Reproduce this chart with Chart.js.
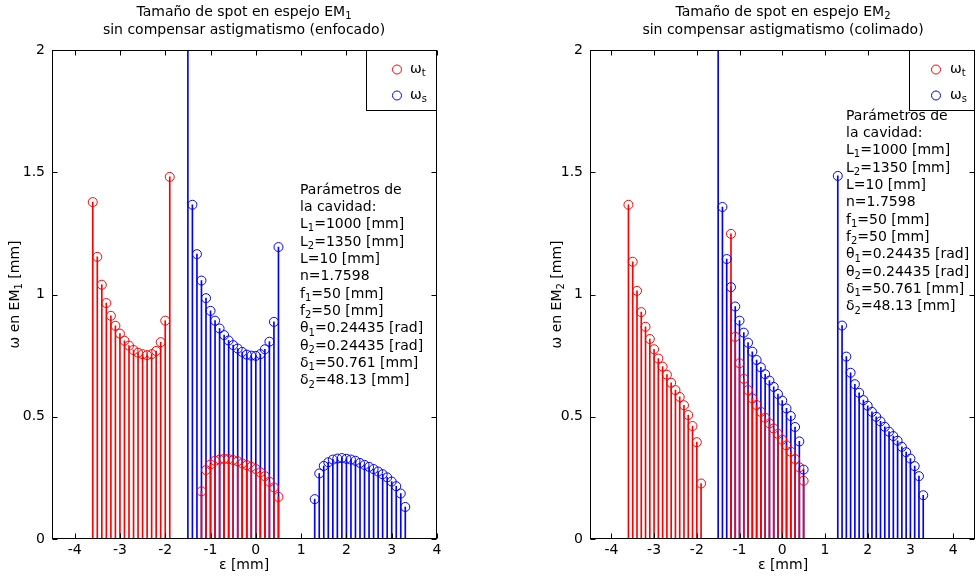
<!DOCTYPE html>
<html>
<head>
<meta charset="utf-8">
<script src="https://cdn.jsdelivr.net/npm/chart.js@4.4.0/dist/chart.umd.min.js"></script>
<style>
  body { margin: 0; background: #fff; }
  canvas { position: absolute; top: 0; }
</style>
</head>
<body>
<canvas id="em1" width="490" height="577" style="left:0px"></canvas>
<canvas id="em2" width="490" height="577" style="left:490px"></canvas>
<script>
// tick labels
const xTicks = [-4, -3, -2, -1, 0, 1, 2, 3, 4];
const yTicks = [0, 0.5, 1, 1.5, 2];

// epsilon positions [mm]
const epsT = [-3.6, -3.5, -3.4, -3.3, -3.2, -3.1, -3.0, -2.9, -2.8, -2.7, -2.6, -2.5, -2.4, -2.3, -2.2, -2.1, -2.0, -1.9,
              -1.2, -1.1, -1.0, -0.9, -0.8, -0.7, -0.6, -0.5, -0.4, -0.3, -0.2, -0.1, 0.0, 0.1, 0.2, 0.3, 0.4, 0.5];
const epsS = [-1.5, -1.4, -1.3, -1.2, -1.1, -1.0, -0.9, -0.8, -0.7, -0.6, -0.5, -0.4, -0.3, -0.2, -0.1, 0.0, 0.1, 0.2, 0.3, 0.4, 0.5,
              1.3, 1.4, 1.5, 1.6, 1.7, 1.8, 1.9, 2.0, 2.1, 2.2, 2.3, 2.4, 2.5, 2.6, 2.7, 2.8, 2.9, 3.0, 3.1, 3.2, 3.3];

// EM1 (enfocado)
const em1WT = [1.378, 1.154, 1.04, 0.965, 0.913, 0.872, 0.84, 0.811, 0.791, 0.773, 0.762, 0.756, 0.752, 0.756, 0.769, 0.805, 0.893, 1.481,
               0.195, 0.282, 0.305, 0.32, 0.325, 0.328, 0.327, 0.323, 0.318, 0.309, 0.302, 0.295, 0.286, 0.273, 0.257, 0.234, 0.211, 0.172];
const em1WS = [2.6, 1.367, 1.165, 1.057, 0.985, 0.933, 0.893, 0.861, 0.834, 0.812, 0.793, 0.779, 0.765, 0.754, 0.75, 0.749, 0.756, 0.776, 0.807, 0.888, 1.194,
               0.163, 0.268, 0.299, 0.314, 0.325, 0.329, 0.331, 0.328, 0.325, 0.32, 0.311, 0.303, 0.295, 0.286, 0.276, 0.265, 0.252, 0.235, 0.216, 0.186, 0.131];

// EM2 (colimado)
const em2WT = [1.367, 1.134, 1.015, 0.928, 0.868, 0.818, 0.776, 0.738, 0.705, 0.672, 0.639, 0.609, 0.581, 0.547, 0.507, 0.462, 0.396, 0.227,
               1.248, 0.827, 0.719, 0.655, 0.609, 0.575, 0.548, 0.52, 0.496, 0.473, 0.452, 0.43, 0.406, 0.383, 0.357, 0.327, 0.293, 0.238];
const em2WS = [2.6, 1.358, 1.145, 1.03, 0.951, 0.893, 0.844, 0.803, 0.766, 0.732, 0.702, 0.674, 0.648, 0.622, 0.593, 0.566, 0.534, 0.503, 0.458, 0.399, 0.284,
               1.485, 0.873, 0.746, 0.68, 0.633, 0.598, 0.568, 0.545, 0.52, 0.5, 0.481, 0.459, 0.439, 0.421, 0.402, 0.377, 0.355, 0.329, 0.298, 0.257, 0.179];

const params = ['Parámetros de', 'la cavidad:', 'L_1=1000 [mm]', 'L_2=1350 [mm]', 'L=10 [mm]', 'n=1.7598',
                'f_1=50 [mm]', 'f_2=50 [mm]', 'θ_1=0.24435 [rad]', 'θ_2=0.24435 [rad]', 'δ_1=50.761 [mm]', 'δ_2=48.13 [mm]'];

const FONT = 'DejaVu Sans';
const RED = '#ff0000', BLUE = '#0000ff';

// text with "_x" subscripts
function richText(ctx, str, x, y, size, align) {
  const parts = str.split(/_(.)/);
  const fN = size + 'px "' + FONT + '"';
  const fS = Math.round(size * 0.72) + 'px "' + FONT + '"';
  let w = 0;
  parts.forEach((p, i) => { ctx.font = i % 2 ? fS : fN; w += ctx.measureText(p).width; });
  let cx = align === 'center' ? x - w / 2 : x;
  ctx.textAlign = 'left';
  ctx.textBaseline = 'middle';
  parts.forEach((p, i) => {
    ctx.font = i % 2 ? fS : fN;
    ctx.fillText(p, cx, i % 2 ? y + size * 0.3 : y);
    cx += ctx.measureText(p).width;
  });
}

// box, inward ticks, legend and annotations
const deco = {
  id: 'deco',
  afterDraw(chart, args, o) {
    const ctx = chart.ctx, a = chart.chartArea;
    const xs = chart.scales.x, ys = chart.scales.y;
    const L = Math.round(a.left) + 0.5, R = Math.round(a.right) - 0.5;
    const T = Math.round(a.top) + 0.5, B = Math.round(a.bottom) - 0.5;
    ctx.save();
    ctx.strokeStyle = '#000';
    ctx.lineWidth = 1;
    ctx.strokeRect(L, T, R - L, B - T);
    ctx.beginPath();
    xTicks.forEach(v => {
      const px = Math.round(xs.getPixelForValue(v)) + 0.5;
      ctx.moveTo(px, B); ctx.lineTo(px, B - 5);
      ctx.moveTo(px, T); ctx.lineTo(px, T + 5);
    });
    yTicks.forEach(v => {
      const py = Math.round(ys.getPixelForValue(v)) + 0.5;
      ctx.moveTo(L, py); ctx.lineTo(L + 5, py);
      ctx.moveTo(R, py); ctx.lineTo(R - 5, py);
    });
    ctx.stroke();

    ctx.fillStyle = '#000';
    o.title.forEach((t, i) => richText(ctx, t, o.cx, 12 + i * 18, 14, 'center'));
    richText(ctx, 'ε [mm]', o.cx, 565, 14, 'center');
    ctx.save();
    ctx.translate(o.yLabelX, (a.top + a.bottom) / 2);
    ctx.rotate(-Math.PI / 2);
    richText(ctx, o.yLabel, 0, 0, 14, 'center');
    ctx.restore();

    params.forEach((t, i) => richText(ctx, t, o.px, o.py + i * 17.35, 14, 'left'));

    // legend
    const lg = o.legend;
    ctx.fillStyle = '#fff';
    ctx.fillRect(lg.x + 0.5, T, R - lg.x - 0.5, lg.h);
    ctx.strokeRect(lg.x + 0.5, T, R - lg.x - 0.5, lg.h);
    [[RED, 'ω_t', 19], [BLUE, 'ω_s', 45]].forEach(([c, t, dy]) => {
      ctx.strokeStyle = c;
      ctx.beginPath();
      ctx.arc(lg.cx, T + dy, 4.5, 0, Math.PI * 2);
      ctx.stroke();
      ctx.fillStyle = '#000';
      richText(ctx, t, lg.tx, T + dy, 14, 'left');
    });
    ctx.restore();
  }
};

function makeChart(id, wt, ws, xMax, padRight, yWidth, opts) {
  const pts = (xs, ys) => xs.map((x, i) => ({ x: x, y: ys[i] }));
  const circle = c => ({ type: 'scatter', borderColor: c, backgroundColor: 'rgba(0,0,0,0)', pointRadius: 4.5,
                         pointHoverRadius: 4.5, borderWidth: 1, pointBorderWidth: 1, order: 0 });
  const stem = c => ({ type: 'bar', backgroundColor: c, borderWidth: 0, barThickness: 1, grouped: false, order: 1 });
  const tickFont = { family: FONT, size: 14 };
  return new Chart(document.getElementById(id), {
    type: 'bar',
    data: {
      datasets: [
        Object.assign(circle(RED), { data: pts(epsT, wt) }),
        Object.assign(circle(BLUE), { data: pts(epsS, ws) }),
        Object.assign(stem(RED), { data: pts(epsT, wt) }),
        Object.assign(stem(BLUE), { data: pts(epsS, ws) })
      ]
    },
    options: {
      responsive: false,
      animation: false,
      layout: { padding: { top: 50, right: padRight, left: 0, bottom: 0 } },
      plugins: { legend: { display: false }, tooltip: { enabled: false }, deco: opts },
      scales: {
        x: {
          type: 'linear', min: -4.5, max: xMax, offset: false,
          afterBuildTicks: s => { s.ticks = xTicks.map(v => ({ value: v })); },
          afterFit: s => { s.height = 38; },
          grid: { display: false, drawTicks: false, offset: false },
          border: { display: false },
          ticks: { color: '#000', font: tickFont, padding: 3, maxRotation: 0, autoSkip: false, callback: v => String(v) }
        },
        y: {
          type: 'linear', min: 0, max: 2,
          afterBuildTicks: s => { s.ticks = yTicks.map(v => ({ value: v })); },
          afterFit: s => { s.width = yWidth; },
          grid: { display: false, drawTicks: false },
          border: { display: false },
          ticks: { color: '#000', font: tickFont, padding: 7, callback: v => String(v) }
        }
      }
    },
    plugins: [deco]
  });
}

makeChart('em1', em1WT, em1WS, 4, 53, 52, {
  title: ['Tamaño de spot en espejo EM_1', 'sin compensar astigmatismo (enfocado)'],
  cx: 244, yLabel: 'ω en EM_1 [mm]', yLabelX: 15,
  px: 300, py: 190,
  legend: { x: 366, h: 60, cx: 397, tx: 410 }
});

makeChart('em2', em2WT, em2WS, 4.5, 4, 100, {
  title: ['Tamaño de spot en espejo EM_2', 'sin compensar astigmatismo (colimado)'],
  cx: 293, yLabel: 'ω en EM_2 [mm]', yLabelX: 67,
  px: 356, py: 116,
  legend: { x: 419, h: 60, cx: 446, tx: 460 }
});
</script>
</body>
</html>
